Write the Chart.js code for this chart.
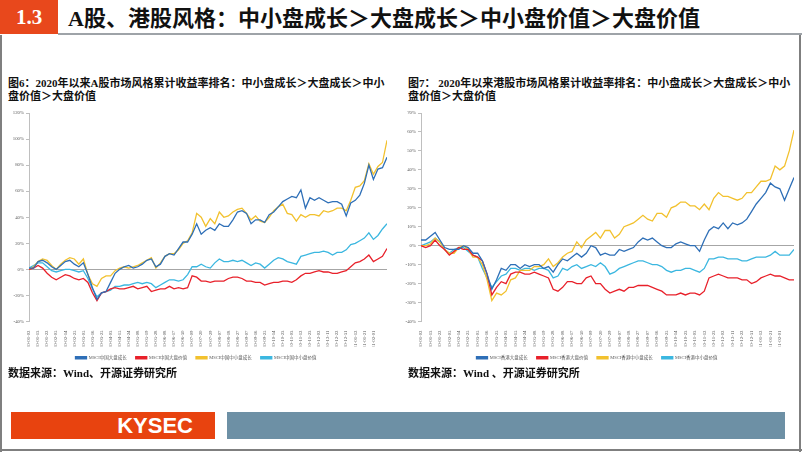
<!DOCTYPE html>
<html>
<head>
<meta charset="utf-8">
<script src="https://cdn.jsdelivr.net/npm/chart.js@4.4.1/dist/chart.umd.min.js"></script>
<style>
  body { margin:0; width:802px; height:452px; position:relative; overflow:hidden; background:#fff;
         font-family:"Liberation Serif","Noto Sans CJK SC",serif; }
  .abs { position:absolute; }
  .num { left:0; top:0; width:58px; height:34px; background:#e8481c; color:#fff; font-weight:bold;
         font-size:21px; line-height:34px; text-align:center; }
  .head { left:68px; top:4px; font-size:22px; font-weight:bold; line-height:30px; color:#111; white-space:nowrap; }
  .hline { left:58px; top:33px; width:744px; height:2px; background:#9ea3a8; }
  .cap { font-size:11px; font-weight:bold; line-height:12.5px; color:#111; white-space:nowrap; }
  .src { font-size:11px; font-weight:bold; color:#111; white-space:nowrap; }
</style>
</head>
<body>
<div class="abs num">1.3</div>
<div class="abs head">A股、港股风格：中小盘成长＞大盘成长＞中小盘价值＞大盘价值</div>
<div class="abs hline"></div>
<div class="abs" style="left:0;top:35px;width:2px;height:417px;background:#7f7f7f"></div>
<div class="abs" style="left:799px;top:35px;width:2px;height:417px;background:#7f7f7f"></div>
<div class="abs" style="left:0;top:449px;width:802px;height:2px;background:#7f7f7f"></div>

<div class="abs cap" style="left:8px;top:77px">图6：2020年以来A股市场风格累计收益率排名：中小盘成长＞大盘成长＞中小<br>盘价值＞大盘价值</div>
<div class="abs cap" style="left:408px;top:77px">图7：&nbsp;2020年以来港股市场风格累计收益率排名：中小盘成长＞大盘成长＞中小<br>盘价值＞大盘价值</div>

<div class="abs" style="left:5px;top:104px;width:390px;height:266px"><canvas id="chartA"></canvas></div>
<div class="abs" style="left:400px;top:104px;width:398px;height:266px"><canvas id="chartH"></canvas></div>

<div class="abs src" style="left:8px;top:364px">数据来源：Wind、开源证券研究所</div>
<div class="abs src" style="left:408px;top:364px">数据来源：Wind 、开源证券研究所</div>

<div class="abs" style="left:11px;top:412px;width:204px;height:27px;background:#e8430f;color:#fff;font-family:Arial,'Liberation Sans',sans-serif;font-weight:bold;font-size:22px;line-height:27px;text-align:right;box-sizing:border-box;padding-right:22px">KYSEC</div>
<div class="abs" style="left:227px;top:412px;width:558px;height:27px;background:#6d90a5"></div>

<script>
// x tick labels (every second point)
const tickDates = ['2020-01-02','2020-01-13','2020-01-22','2020-02-05','2020-02-14','2020-02-25','2020-03-05','2020-03-16',
  '2020-03-25','2020-04-03','2020-04-15','2020-04-24','2020-05-08','2020-05-19','2020-05-28','2020-06-08',
  '2020-06-17','2020-06-30','2020-07-09','2020-07-20','2020-07-29','2020-08-07','2020-08-18','2020-08-27',
  '2020-09-07','2020-09-16','2020-09-25','2020-10-14','2020-10-23','2020-11-03','2020-11-12','2020-11-23',
  '2020-12-02','2020-12-11','2020-12-22','2020-12-31','2021-01-12','2021-01-21','2021-02-01','2021-02-10'];

// y tick values (%)
const yTicksA = [-40, -20, 0, 20, 40, 60, 80, 100, 120];
const yTicksH = [-40, -30, -20, -10, 0, 10, 20, 30, 40, 50, 60, 70];

// 图6 A股 (%)
const aNames = ['MSCI中国大盘成长','MSCI中国大盘价值','MSCI中国中小盘成长','MSCI中国中小盘价值'];
const aLargeGrowth = [1,1,6,7,5,2,0,3,6,7,4,2,5,-4,-14,-23,-18,-17,-10,-3,0,2,3,1,2,4,7,8,2,4,
  10,12,11,16,21,21,27,35,27,30,32,30,35,33,33,38,44,45,43,35,38,38,36,42,44,48,52,54,56,55,
  61,47,55,53,55,53,51,52,52,50,41,51,53,57,66,80,69,77,78,86];
const aLargeValue = [0,1,3,1,-3,-6,-8,-6,-4,-5,-7,-8,-7,-10,-18,-24,-18,-17,-15,-14,-15,-15,-14,-13,-15,-14,-13,-17,-16,-15,
  -15,-13,-15,-14,-15,-14,-5,-6,-9,-9,-10,-9,-9,-9,-7,-6,-6,-7,-9,-9,-10,-10,-12,-11,-10,-10,-9,-9,-10,-8,
  -5,-3,-3,-2,-1,-2,-2,-3,-3,-2,-1,2,5,6,8,11,6,8,10,16];
const aSmallGrowth = [0,2,6,8,7,3,0,4,7,9,8,4,8,-4,-11,-13,-7,-5,-5,-1,1,2,1,2,3,5,7,9,1,5,
  10,12,12,15,20,22,28,43,40,33,39,35,44,40,41,44,46,47,43,38,41,37,36,40,45,48,50,43,42,37,
  42,40,42,42,41,45,44,45,47,47,45,53,63,64,68,81,73,79,82,99];
const aSmallValue = [1,3,5,5,2,-1,-2,-1,0,0,-1,-2,-1,-7,-15,-21,-18,-17,-16,-13,-13,-12,-12,-11,-10,-11,-10,-11,-14,-12,
  -10,-8,-8,-9,-8,-4,2,2,4,2,1,5,8,6,6,7,6,7,5,3,5,4,1,4,7,9,8,6,5,4,
  10,11,12,13,13,14,13,11,13,13,15,19,20,22,24,28,23,26,31,35];

// 图7 港股 (%)
const hNames = ['MSCI香港大盘成长','MSCI香港大盘价值','MSCI香港中小盘成长','MSCI香港中小盘价值'];
const hLargeGrowth = [3,3,5,7,3,-1,-2,-2,-2,0,-1,-4,-4,-8,-15,-23,-18,-12,-13,-10,-10,-12,-10,-11,-10,-10,-12,-11,-14,-10,
  -7,-8,-6,-4,-6,-4,0,-1,-5,-4,-5,-5,-2,-3,-2,-1,2,4,3,4,2,0,-1,-1,1,2,1,0,0,-3,
  3,8,10,9,12,9,12,11,12,14,18,22,25,28,33,31,30,24,30,36];
const hLargeValue = [0,-1,0,3,0,-2,-5,-3,-1,-2,-2,-5,-6,-8,-15,-26,-22,-19,-20,-15,-14,-14,-15,-15,-14,-15,-16,-17,-23,-24,
  -22,-19,-19,-20,-20,-17,-16,-20,-20,-23,-25,-24,-23,-24,-22,-22,-21,-21,-21,-22,-23,-24,-26,-26,-26,-25,-26,-25,-25,-26,
  -24,-17,-16,-15,-16,-17,-17,-17,-18,-18,-20,-19,-17,-16,-15,-16,-16,-17,-18,-18];
const hSmallGrowth = [0,0,1,4,2,-2,-4,-4,-1,0,-2,-6,-6,-10,-18,-29,-25,-26,-24,-18,-17,-13,-13,-13,-11,-11,-10,-7,-11,-9,
  -6,-4,-3,2,-1,3,5,7,4,8,8,4,6,10,11,12,14,16,14,13,17,17,15,20,21,23,23,21,21,19,
  22,19,25,28,26,26,25,24,25,28,28,31,34,34,35,42,40,42,50,61];
const hSmallValue = [0,1,2,4,2,-2,-4,-2,-1,-1,-3,-5,-6,-12,-17,-22,-19,-16,-15,-12,-12,-13,-12,-12,-13,-12,-12,-13,-17,-16,
  -12,-13,-11,-10,-12,-11,-10,-11,-9,-11,-15,-14,-12,-11,-10,-9,-8,-8,-9,-10,-10,-11,-13,-14,-13,-13,-12,-12,-13,-14,
  -12,-7,-7,-6,-6,-7,-7,-7,-8,-8,-7,-6,-6,-6,-5,-3,-5,-5,-5,-2];

const colors = ['#2e6fb7', '#e8202a', '#f2c12e', '#3bb7e0'];
const tickFont = { family: '"Liberation Serif","Noto Sans CJK SC"', size: 4.8 };

function toPoints(arr) {
  return arr.map((v, i) => ({ x: i, y: v }));
}

function makeChart(id, names, series, yTicks, yWidth, padRight) {
  new Chart(document.getElementById(id), {
    type: 'line',
    data: {
      datasets: series.map((s, k) => ({
        label: names[k],
        data: toPoints(s),
        borderColor: colors[k],
        backgroundColor: colors[k],
        borderWidth: 1.3,
        pointRadius: 0,
        tension: 0
      }))
    },
    options: {
      animation: false,
      responsive: true,
      maintainAspectRatio: false,
      layout: { padding: { top: 9, right: padRight, left: 0, bottom: 0 } },
      plugins: {
        tooltip: { enabled: false },
        legend: {
          position: 'bottom',
          labels: { boxWidth: 11, boxHeight: 2, padding: 9, color: '#595959',
                    font: { family: '"Liberation Serif","Noto Sans CJK SC"', size: 4.5 } }
        }
      },
      scales: {
        x: {
          type: 'linear', min: 0, max: series[0].length - 1,
          afterFit: s => { s.height = 25; },
          grid: { display: false },
          border: { display: false },
          ticks: {
            stepSize: 2, autoSkip: false, minRotation: 90, maxRotation: 90,
            color: '#595959', font: tickFont, padding: 1,
            callback: v => tickDates[v / 2]
          }
        },
        y: {
          min: yTicks[0], max: yTicks[yTicks.length - 1],
          afterFit: s => { s.width = yWidth; },
          afterBuildTicks: s => { s.ticks = yTicks.map(v => ({ value: v })); },
          border: { color: '#bfbfbf', width: 1 },
          grid: {
            color: c => (c.tick && c.tick.value === 0 ? '#a6a6a6' : 'rgba(0,0,0,0)'),
            tickColor: '#bfbfbf', tickLength: 3, lineWidth: 1
          },
          ticks: { autoSkip: false, color: '#595959', font: tickFont, padding: 2,
                   callback: v => v + '%' }
        }
      }
    }
  });
}

makeChart('chartA', aNames, [aLargeGrowth, aLargeValue, aSmallGrowth, aSmallValue], yTicksA, 24, 8);
makeChart('chartH', hNames, [hLargeGrowth, hLargeValue, hSmallGrowth, hSmallValue], yTicksH, 21, 4);
</script>
</body>
</html>
